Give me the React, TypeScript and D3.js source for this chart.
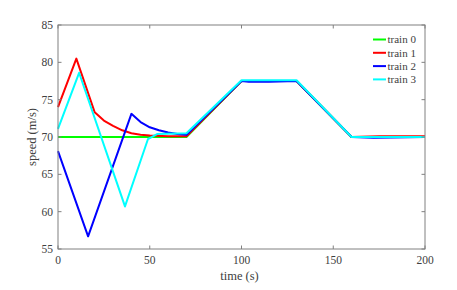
import React from 'react';
import * as d3 from 'd3';

// time (s) / speed (m/s) for each train
const train0T = [0, 70, 100, 130, 160, 200];
const train0V = [70, 70, 77.5, 77.5, 70, 70];

const train1T = [0, 10, 20, 25, 30, 35, 40, 45, 50, 60, 70, 100, 130, 160, 175, 200];
const train1V = [74, 80.5, 73.3, 72.2, 71.5, 70.9, 70.5, 70.3, 70.2, 70.1, 70.1, 77.5, 77.5, 70, 70.1, 70.1];

const train2T = [0, 16.4, 40, 45, 50, 55, 60, 65, 70, 100, 104, 115, 130, 160, 172, 200];
const train2V = [68.1, 56.7, 73.1, 72.0, 71.3, 70.9, 70.6, 70.4, 70.3, 77.5, 77.4, 77.4, 77.5, 70, 69.9, 70];

const train3T = [0, 11.5, 36.5, 49, 54, 70, 100, 130, 160, 200];
const train3V = [71.1, 78.6, 60.7, 69.7, 70.4, 70.5, 77.6, 77.6, 70, 70];

const seriesNames = ['train 0', 'train 1', 'train 2', 'train 3'];
const seriesColors = ['#00ff00', '#ff0000', '#0000ff', '#00ffff'];

const xTicks = [0, 50, 100, 150, 200];
const yTicks = [55, 60, 65, 70, 75, 80, 85];

export default function App() {
  const width = 457;
  const height = 290;
  const margin = { top: 25, right: 32, bottom: 41, left: 58 };
  const innerW = width - margin.left - margin.right;
  const innerH = height - margin.top - margin.bottom;

  const x = d3.scaleLinear().domain([0, 200]).range([0, innerW]);
  const y = d3.scaleLinear().domain([55, 85]).range([innerH, 0]);

  const all = [
    [train0T, train0V],
    [train1T, train1V],
    [train2T, train2V],
    [train3T, train3V],
  ].map(([t, v]) => t.map((d, i) => [d, v[i]] as [number, number]));

  const line = d3
    .line<[number, number]>()
    .x((d) => x(d[0]))
    .y((d) => y(d[1]));

  const font = 'Liberation Serif, DejaVu Serif, serif';
  const axisColor = '#808080';
  const textColor = '#404040';

  return (
    <svg width={width} height={height} style={{ position: 'absolute', left: 0, top: 0, background: '#fff' }}>
      <g transform={`translate(${margin.left},${margin.top})`} style={{ fontFamily: font }}>
        {all.map((pts, i) => (
          <path
            key={i}
            d={line(pts) ?? ''}
            fill="none"
            stroke={seriesColors[i]}
            strokeWidth={2}
            strokeLinejoin="round"
          />
        ))}

        {/* frame */}
        <rect x={0} y={0} width={innerW} height={innerH} fill="none" stroke={axisColor} strokeWidth={1} />

        {xTicks.map((t) => (
          <g key={'x' + t}>
            <line x1={x(t)} x2={x(t)} y1={innerH} y2={innerH - 3.5} stroke={axisColor} />
            <line x1={x(t)} x2={x(t)} y1={0} y2={3.5} stroke={axisColor} />
            <text x={x(t)} y={innerH + 15} textAnchor="middle" fontSize={11.5} fill={textColor}>
              {t}
            </text>
          </g>
        ))}

        {yTicks.map((t) => (
          <g key={'y' + t}>
            <line x1={0} x2={3.5} y1={y(t)} y2={y(t)} stroke={axisColor} />
            <line x1={innerW} x2={innerW - 3.5} y1={y(t)} y2={y(t)} stroke={axisColor} />
            <text x={-5} y={y(t)} dy="0.35em" textAnchor="end" fontSize={11.5} fill={textColor}>
              {t}
            </text>
          </g>
        ))}

        <text x={innerW / 2 - 2} y={innerH + 31} textAnchor="middle" fontSize={12.5} fill={textColor}>
          time (s)
        </text>
        <text
          transform={`translate(-22,${innerH / 2}) rotate(-90)`}
          textAnchor="middle"
          fontSize={12.5}
          fill={textColor}
        >
          speed (m/s)
        </text>

        {/* legend */}
        {seriesNames.map((name, i) => (
          <g key={name} transform={`translate(${315},${14.5 + i * 13.3})`}>
            <line x1={0} x2={13} y1={0} y2={0} stroke={seriesColors[i]} strokeWidth={2} />
            <text x={14.5} y={0} dy="0.35em" fontSize={11} fill={textColor}>
              {name}
            </text>
          </g>
        ))}
      </g>
    </svg>
  );
}
